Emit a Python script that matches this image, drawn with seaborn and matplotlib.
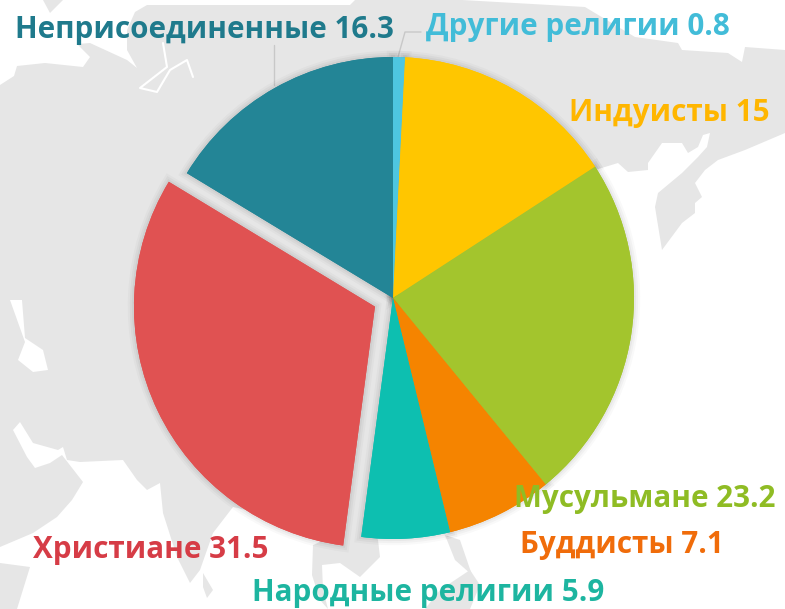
import matplotlib
matplotlib.use('Agg')
import matplotlib.pyplot as plt
import matplotlib.patheffects as pe
import seaborn as sns

# Data
categories = ['Другие религии', 'Индуисты', 'Мусульмане', 'Буддисты',
              'Народные религии', 'Христиане', 'Неприсоединенные']
values = [0.8, 15, 23.2, 7.1, 5.9, 31.5, 16.3]
explode = [0, 0, 0, 0, 0, 20, 0]
slice_colors = ['#4EC6E0', '#FFC600', '#A3C52D', '#F58400', '#0DBFB0', '#E05252', '#238596']
label_colors = ['#42BCD8', '#FFB600', '#8FBC24', '#F06C0A', '#1DB5A0', '#D63C46', '#1F7A8C']
# left edge and vertical middle of each label, in pixels of the picture
label_pos = [(426, 27), (569, 113), (514, 499), (520, 545), (252, 593), (33, 550), (15, 30)]

sns.set_theme(style='white')
plt.rcParams['font.family'] = ['Open Sans', 'DejaVu Sans']

W, H = 785, 609


def px(points):
    return [(x, H - y) for x, y in points]


fig = plt.figure(figsize=(7.85, 6.09), dpi=100)
ax = fig.add_axes([0, 0, 1, 1])

# Background map, rough outlines
land = '#E6E6E6'
main_land = [(0, 85), (14, 76), (17, 66), (45, 63), (83, 67), (90, 57), (77, 44), (90, 43), (127, 60),
             (137, 68), (127, 50), (127, 30), (135, 12), (147, 5), (165, 5), (240, 5), (350, 5), (355, 0),
             (462, 0), (585, 7), (635, 37), (678, 43),
             (682, 50), (728, 53), (742, 62), (745, 47), (785, 50), (785, 133), (745, 150), (718, 160),
             (705, 170), (695, 183), (702, 197), (695, 203), (695, 213), (682, 223), (662, 250),
             (655, 207), (658, 193), (682, 173), (698, 157), (707, 147), (710, 133), (703, 135),
             (698, 147), (688, 153), (682, 143), (662, 143), (648, 163), (648, 170), (628, 172),
             (618, 163), (595, 170), (450, 400), (358, 535), (233, 507), (213, 533), (200, 570), (190, 583),
             (177, 557), (163, 513), (160, 483), (147, 490), (137, 480), (123, 460), (80, 462),
             (67, 460), (63, 447), (58, 450), (33, 443), (20, 422), (13, 430), (27, 457), (35, 468),
             (50, 463), (62, 455), (83, 482), (72, 500), (57, 517), (33, 533), (0, 547)]
other_land = [
    [(313, 545), (312, 575), (320, 600), (328, 609), (323, 590), (322, 565), (340, 563), (360, 577),
     (380, 557), (378, 540), (370, 520)],
    [(203, 573), (213, 590), (207, 598), (203, 587)],
    [(0, 563), (30, 567), (17, 609), (0, 609)],
    [(440, 590), (470, 570), (480, 585), (470, 609), (425, 609)],
    [(43, 0), (63, 0), (50, 13)],
    [(445, 535), (460, 540), (472, 575), (455, 560)],
]
ax.fill(*zip(*px(main_land)), color=land, lw=0, zorder=1)
for shape in other_land:
    ax.fill(*zip(*px(shape)), color=land, lw=0, zorder=1)

# Inland water
caspian = [(10, 300), (25, 342), (18, 360), (33, 372), (48, 370), (43, 350), (25, 338), (22, 300)]
ax.fill(*zip(*px(caspian)), color='white', lw=0, zorder=2)
ob_x, ob_y = zip(*px([(163, 43), (167, 67), (140, 88), (157, 92), (170, 70), (187, 60), (193, 77)]))
ax.plot(ob_x, ob_y, color='white', lw=1.5, zorder=2)

# Leader lines
for line in ([(274, 45), (274, 85)], [(421, 32), (405, 32), (398, 57)]):
    lx, ly = zip(*px(line))
    ax.plot(lx, ly, color='#C8C8C8', lw=1, zorder=3)

center = (393, H - 298)
# Soft shadow first, so it never falls on a neighbouring slice
shadow, _ = ax.pie(values, explode=explode, colors=slice_colors, startangle=90, counterclock=False,
                   radius=241, center=center, wedgeprops={'linewidth': 0})
for w in shadow:
    w.set_zorder(4)
    w.set_path_effects([pe.Stroke(linewidth=9, foreground='black', alpha=0.025),
                        pe.Stroke(linewidth=6, foreground='black', alpha=0.03),
                        pe.Stroke(linewidth=3, foreground='black', alpha=0.04), pe.Normal()])

wedges, _ = ax.pie(values, explode=explode, colors=slice_colors, startangle=90, counterclock=False,
                   radius=241, center=center, wedgeprops={'linewidth': 0})
for w in wedges:
    w.set_zorder(5)

for name, val, col, (x, y) in zip(categories, values, label_colors, label_pos):
    ax.text(x, H - y, f'{name} {val}', color=col, fontsize=21.3, fontweight='bold',
            ha='left', va='center', zorder=6)

ax.set_xlim(0, W)
ax.set_ylim(0, H)
ax.set_aspect('auto')
ax.axis('off')

fig.savefig('out.png', dpi=100, facecolor='white')
